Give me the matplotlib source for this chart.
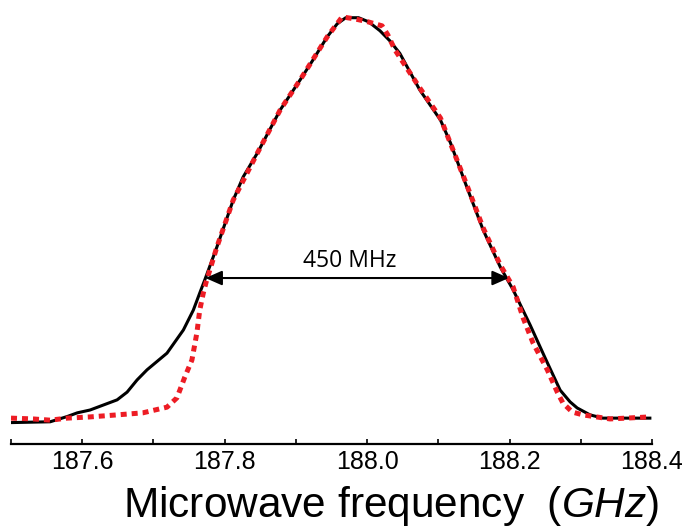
import numpy as np
import matplotlib
matplotlib.use("Agg")
import matplotlib.pyplot as plt

plt.rcParams["font.family"] = ["Liberation Sans", "DejaVu Sans"]
plt.rcParams["mathtext.fontset"] = "custom"
plt.rcParams["mathtext.rm"] = "Liberation Sans"
plt.rcParams["mathtext.it"] = "Liberation Sans:italic"

# measured spectrum (black) and simulated fit (red dotted), normalised
freq_meas = [187.500, 187.555, 187.579, 187.593, 187.611, 187.649, 187.663,
             187.677, 187.691, 187.719, 187.742, 187.756, 187.765, 187.772,
             187.789, 187.812, 187.826, 187.846, 187.878, 187.906, 187.924,
             187.944, 187.958, 187.970, 187.988, 188.002, 188.018, 188.032,
             188.046, 188.074, 188.103, 188.117, 188.140, 188.163, 188.187,
             188.205, 188.229, 188.250, 188.271, 188.285, 188.295, 188.313,
             188.331, 188.397]
sig_meas = [0.001, 0.003, 0.016, 0.025, 0.032, 0.057, 0.076,
            0.106, 0.131, 0.172, 0.229, 0.278, 0.320, 0.352,
            0.433, 0.549, 0.606, 0.665, 0.771, 0.845, 0.894,
            0.951, 0.983, 0.998, 0.998, 0.988, 0.966, 0.941,
            0.910, 0.820, 0.746, 0.690, 0.581, 0.475, 0.384,
            0.328, 0.241, 0.160, 0.081, 0.052, 0.037, 0.020,
            0.012, 0.012]

freq_sim = [187.500, 187.531, 187.555, 187.579, 187.611, 187.649, 187.685,
            187.719, 187.733, 187.744, 187.754, 187.761, 187.765, 187.770,
            187.774, 187.789, 187.812, 187.846, 187.878, 187.906, 187.944,
            187.965, 187.983, 188.001, 188.021, 188.029, 188.039, 188.074,
            188.103, 188.140, 188.163, 188.187, 188.205, 188.219, 188.233,
            188.253, 188.267, 188.275, 188.288, 188.303, 188.341, 188.397]
sig_sim = [0.012, 0.010, 0.007, 0.012, 0.015, 0.020, 0.025,
           0.039, 0.062, 0.113, 0.155, 0.222, 0.278, 0.320,
           0.347, 0.433, 0.549, 0.665, 0.771, 0.845, 0.951,
           1.000, 0.995, 0.988, 0.978, 0.956, 0.919, 0.825,
           0.751, 0.586, 0.480, 0.389, 0.335, 0.259, 0.197,
           0.131, 0.076, 0.049, 0.027, 0.020, 0.010, 0.015]

fwhm_left, fwhm_right, fwhm_level = 187.773, 188.199, 0.357
fwhm_label = "450 MHz"

fig = plt.figure(figsize=(6.86, 5.32), dpi=100)
ax = fig.add_axes([11 / 686, (532 - 444) / 532, 641 / 686, 434 / 532])

ax.plot(freq_meas, sig_meas, color="black", lw=2.2, solid_joinstyle="round")
ax.plot(freq_sim, sig_sim, color="#ED1C24", lw=3.6, linestyle=(0, (1.2, 1.0)),
        dash_capstyle="butt")

ax.annotate("", xy=(fwhm_left, fwhm_level), xytext=(fwhm_right, fwhm_level),
            arrowprops=dict(arrowstyle="<|-|>,head_length=0.5,head_width=0.22",
                            mutation_scale=20, lw=1.5, color="black",
                            shrinkA=0, shrinkB=0))
ax.text((fwhm_left + fwhm_right) / 2 - 0.01, fwhm_level + 0.012, fwhm_label,
        ha="center", va="bottom", fontsize=16.5, family="Open Sans")

ax.set_xlim(187.5, 188.4)
ax.set_ylim(-0.0517, 1.017)
ax.set_xticks(np.arange(187.6, 188.41, 0.2))
ax.set_xticks(np.arange(187.5, 188.41, 0.1), minor=True)
ax.set_xticklabels(["187.6", "187.8", "188.0", "188.2", "188.4"])
ax.set_yticks([])
for s in ["top", "left", "right"]:
    ax.spines[s].set_visible(False)
ax.spines["bottom"].set_linewidth(1.6)
ax.tick_params(axis="x", which="both", direction="in", length=3.5, width=1.2,
               labelsize=18, pad=4)

fig.text(391 / 686, (532 - 506) / 532,
         r"Microwave frequency  $\mathit{(GHz)}$", ha="center", va="center",
         fontsize=30.5)

fig.savefig("out.png", dpi=100)
